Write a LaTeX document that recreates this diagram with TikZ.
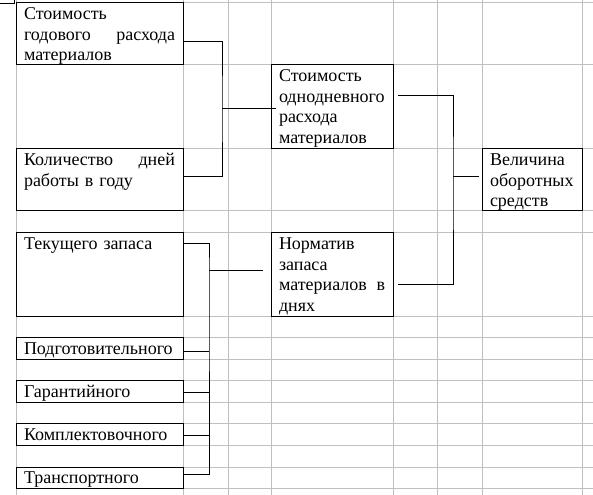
\documentclass[tikz,border=0pt]{standalone}
\usepackage{fontspec}
\setmainfont{Liberation Serif}
\usetikzlibrary{calc}
\hyphenpenalty=10000

\begin{document}
\begin{tikzpicture}[x=0.75pt,y=-0.75pt,
  cell/.style={draw=black,fill=white,line width=0.75pt,anchor=north west,
    inner xsep=6pt,inner ysep=0pt,outer sep=0pt,align=left,
    text height=12.5pt,font=\fontsize{13.5}{15.5}\selectfont},
  wide/.style={cell,text width=113.25pt},
  narrow/.style={cell,text width=79.5pt},
  rowA/.style={text depth=34pt},   % 62px
  rowB/.style={text depth=50.5pt}, % 84px
  rowC/.style={text depth=3.6pt},  % one sheet row
  gridline/.style={draw=black!25,line width=0.75pt},
  link/.style={draw=black,line width=0.75pt}]
\useasboundingbox (0,0) rectangle (593,495);
% sheet grid
\foreach \x in {16,183,228,271,393,437,482,582}
  \draw[gridline] (\x,0) -- (\x,495);
\foreach \y in {3,65,149,211,233,317,338,359.5,381,402.5,424,445.5,467,488.5}
  \draw[gridline] (16,\y) -- (593,\y);
% clipped cell corner
\draw[link] (0,4) -- (14,4) -- (14,0);

\node[wide,rowA] (god) at (16,3) {Стоимость\\годового\hfill расхода\\материалов};
\node[wide,rowA] (kol) at (16,149) {Количество\hfill дней\\работы в году};
\node[wide,rowB] (tek) at (16,233) {Текущего запаса};
\node[wide,rowC] (pod) at (16,338) {Подготовительного};
\node[wide,rowC] (gar) at (16,381) {Гарантийного};
\node[wide,rowC] (kom) at (16,424) {Комплектовочного};
\node[wide,rowC] (tra) at (16,467) {Транспортного};
\node[narrow,rowB] (odn) at (271,65) {Стоимость\\однодневного\\расхода\\материалов};
\node[narrow,rowB] (norm) at (271,233) {Норматив\\запаса\\материалов\hfill в\\днях};
\node[cell,rowA,text width=63pt] (vel) at (482,149) {Величина\\оборотных\\средств};

\coordinate (jA) at (222,109);
\coordinate (jB) at (453,177);
\coordinate (jC) at (209,271);
\draw[link] (god.east |- 0,42) -| (jA) |- (kol.east |- 0,177);
\draw[link] (jA) -- ($(odn.west |- jA)+(5,0)$);
\draw[link] ($(odn.east |- 0,96)+(5,0)$) -| (jB) |- ($(norm.east |- 0,285)+(5,0)$);
\draw[link] (jB) -- ($(vel.west |- jB)+(-3,0)$);
\draw[link] (tek.east |- 0,244) -| (jC) |- (tra.east |- 0,474);
\foreach \n/\yy in {pod/352,gar/393,kom/435}
  \draw[link] (\n.east |- 0,\yy) -- (jC |- 0,\yy);
\draw[link] (jC) -- ($(norm.west |- jC)+(-8,0)$);
\end{tikzpicture}
\end{document}
